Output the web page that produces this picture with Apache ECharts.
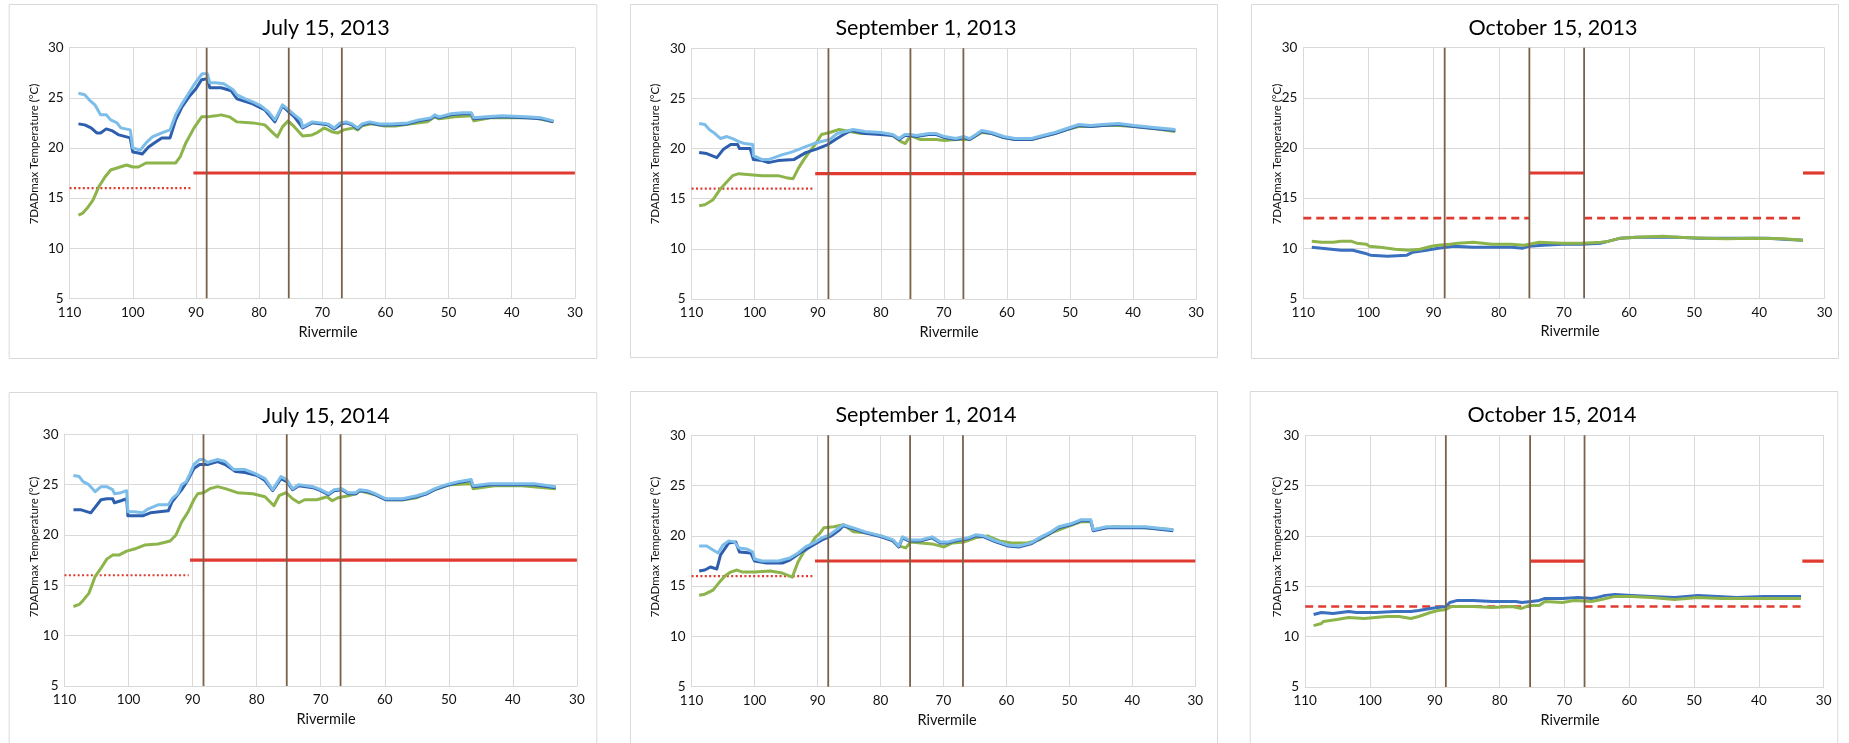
<!DOCTYPE html>
<html>
<head>
<meta charset="utf-8">
<title>7DADmax Temperature by Rivermile</title>
<script src="https://cdn.jsdelivr.net/npm/echarts@6/dist/echarts.min.js"></script>
<style>
  html, body { margin: 0; padding: 0; background: #ffffff; }
  #chart { width: 1849px; height: 743px; }
</style>
</head>
<body>
<div id="chart"></div>
<script>
// ---- Panel titles and axis titles ----
const panelTitles = ['July 15, 2013', 'September 1, 2013', 'October 15, 2013',
                     'July 15, 2014', 'September 1, 2014', 'October 15, 2014'];
const xAxisTitle = 'Rivermile';
const yAxisTitle = '7DADmax Temperature (°C)';

// ---- Axis ranges ----
const xRange = { min: 30, max: 110, interval: 10 };
const yRange = { min: 5, max: 30, interval: 5 };

// ---- Dam locations (rivermile) ----
const damMiles = [88.3, 75.3, 66.9];

// ---- Temperature criteria, [rivermile, °C] ----
const summerSpawning = [[110, 16], [90.6, 16]];
const summerRearing = [[90.4, 17.5], [30, 17.5]];
const fallSpawningUpper = [[110, 13], [75.3, 13]];
const fallRearingMid = [[75.3, 17.5], [66.9, 17.5]];
const fallSpawningLower = [[66.9, 13], [33.3, 13]];
const fallRearingLower = [[33.3, 17.5], [30, 17.5]];

// ---- July 15, 2013 ----
const jul13Light = [[108.6,25.45],[107.6,25.3],[106.9,24.8],[106,24.3],[105.1,23.3],[104.2,23.3],[103.5,22.8],[102.5,22.5],[101.9,22.0],[100.4,21.8],[100,20.0],[98.8,19.8],[97.9,20.5],[96.9,21.1],[95.4,21.5],[94.1,21.8],[93.2,23.3],[92.2,24.4],[91.3,25.3],[90.3,26.3],[89.4,27.1],[89,27.4],[88.2,27.4],[87.8,26.5],[86.9,26.5],[85.6,26.4],[84.1,25.8],[83.5,25.3],[82.2,24.9],[81,24.6],[79.7,24.2],[78.5,23.6],[77.5,22.8],[76.9,23.5],[76.3,24.3],[75.3,23.8],[74.4,23.3],[73.4,22.8],[73.1,22.1],[71.6,22.6],[70.3,22.5],[69.1,22.4],[68.1,22.0],[67.2,22.5],[66.2,22.6],[65.3,22.4],[64.4,22.0],[63.7,22.4],[62.5,22.6],[60.9,22.4],[59,22.4],[56.5,22.5],[54.7,22.8],[52.8,23.0],[52.2,23.3],[51.5,23.1],[49.7,23.4],[47.8,23.5],[46.4,23.5],[46,23.0],[44,23.1],[41.5,23.2],[37.8,23.1],[35.3,23.0],[33.4,22.7]];
const jul13Dark = [[108.6,22.4],[107.6,22.3],[106.6,22.0],[105.7,21.5],[105.1,21.5],[104.2,21.9],[103.2,21.7],[102.2,21.3],[101,21.1],[100.4,21.0],[100,19.6],[99.1,19.5],[98.5,19.4],[97.5,20.1],[96.6,20.5],[95.4,21.0],[94.1,21.0],[93.2,22.8],[92.2,24.1],[91.1,25.1],[90,25.9],[89.1,26.8],[88.2,26.9],[87.8,26.0],[86,26.0],[84.4,25.7],[83.5,24.9],[81,24.4],[79.1,23.8],[77.5,22.6],[76.3,24.2],[75.3,23.6],[74.4,23.1],[73.1,22.0],[71.6,22.5],[69.1,22.3],[68.1,21.9],[66.9,22.4],[66.2,22.5],[65.3,22.3],[64.4,21.9],[63.7,22.3],[62.5,22.5],[60.9,22.3],[59,22.3],[56.5,22.4],[54.7,22.7],[52.8,22.9],[52.2,23.2],[51.5,23.0],[49.7,23.3],[47.8,23.4],[46.4,23.4],[46,22.9],[44,23.0],[41.5,23.1],[37.8,23.0],[35.3,22.9],[33.4,22.6]];
const jul13Green = [[108.6,13.3],[107.9,13.5],[107.2,14.0],[106.3,14.8],[105.4,16.1],[104.4,17.1],[103.5,17.8],[102.5,18.0],[101,18.3],[100,18.1],[99.1,18.1],[97.9,18.5],[95.4,18.5],[93.2,18.5],[92.5,19.1],[91.6,20.5],[90.3,22.0],[89.1,23.1],[88.2,23.1],[86.9,23.2],[86,23.3],[84.7,23.1],[83.5,22.6],[81,22.5],[79.1,22.3],[77.8,21.5],[77.1,21.1],[76.3,22.1],[75.4,22.7],[74.4,22.1],[73.1,21.2],[71.6,21.3],[70.9,21.5],[69.7,22.0],[68.4,21.6],[67.5,21.5],[66.6,21.8],[65,22.0],[64.4,21.8],[63.7,22.2],[62.2,22.4],[60.3,22.2],[58.4,22.2],[55.9,22.4],[53.4,22.6],[52.2,23.1],[51.5,22.9],[49,23.1],[46.4,23.2],[46,22.7],[43.4,23.0],[39.6,23.0],[36.5,23.0],[33.4,22.6]];

// ---- September 1, 2013 ----
const sep13Light = [[108.8,22.5],[107.9,22.4],[107.2,21.9],[106.3,21.5],[105.4,21.0],[104.4,21.2],[103.5,21.0],[102.5,20.7],[101.6,20.5],[100.3,20.4],[100.2,19.3],[98.8,18.9],[97.8,18.9],[96.9,19.1],[95.6,19.4],[94.4,19.6],[93.1,19.9],[91.9,20.2],[90.6,20.5],[89.4,20.7],[88.1,20.9],[86.9,21.5],[85.6,21.7],[84.4,21.9],[82.5,21.7],[80,21.6],[78.1,21.4],[77.1,21.0],[76.2,21.4],[75.3,21.4],[74.3,21.3],[72.4,21.5],[71.2,21.5],[69.9,21.2],[68.1,21.0],[66.8,21.2],[65.9,21.0],[64.9,21.4],[64,21.8],[62.4,21.6],[60.5,21.2],[58.7,21.0],[56.1,21.0],[54.3,21.3],[52.4,21.6],[50.5,22.0],[48.6,22.4],[46.7,22.3],[44.9,22.4],[42.3,22.5],[39.8,22.3],[36.7,22.1],[33.3,21.9]];
const sep13Dark = [[108.8,19.6],[107.6,19.5],[106,19.1],[105,19.9],[103.8,20.4],[102.7,20.4],[102.4,20.0],[100.7,20.0],[100.2,18.9],[98.8,18.8],[97.8,18.6],[96.3,18.8],[93.8,18.9],[91.9,19.6],[90,20.0],[88.4,20.4],[87.2,20.9],[85.9,21.4],[84.7,21.8],[82.5,21.5],[80,21.4],[78.1,21.3],[77.1,20.9],[76.2,21.3],[75.3,21.3],[74.3,21.2],[72.4,21.4],[71.2,21.4],[69.9,21.1],[68.1,20.9],[66.8,21.1],[65.9,20.9],[64.9,21.3],[64,21.7],[62.4,21.5],[60.5,21.1],[58.7,20.9],[56.1,20.9],[54.3,21.2],[52.4,21.5],[50.5,21.9],[48.6,22.3],[46.7,22.2],[44.9,22.3],[42.3,22.4],[39.8,22.2],[36.7,22.0],[33.3,21.8]];
const sep13Green = [[108.8,14.3],[107.9,14.4],[106.6,14.9],[105.4,16.0],[104.4,16.7],[103.5,17.3],[102.5,17.5],[100.7,17.4],[98.8,17.3],[96.3,17.3],[95,17.1],[93.9,17.0],[93.1,18.0],[92.2,18.9],[91.3,19.7],[90.3,20.5],[89.4,21.4],[88.1,21.6],[86.6,21.9],[85,21.7],[83.1,21.5],[80.6,21.6],[78.1,21.3],[76.8,20.7],[76.1,20.5],[75.3,21.3],[73.7,20.9],[71.2,20.9],[69.9,20.8],[68.1,20.9],[65.9,20.9],[64,21.6],[62.4,21.5],[60.5,21.1],[58.7,20.9],[56.1,20.9],[54.3,21.2],[52.4,21.5],[50.5,21.9],[48.6,22.2],[46.7,22.2],[44.9,22.3],[42.3,22.3],[39.8,22.2],[36.7,22.0],[33.3,21.7]];

// ---- October 15, 2013 ----
const oct13Blue = [[108.7,10.1],[107.2,10.0],[104.2,9.8],[102.4,9.8],[100.6,9.5],[99.7,9.3],[97.1,9.2],[94.1,9.3],[93.2,9.6],[91.1,9.8],[89.3,10.0],[86.9,10.2],[83.9,10.1],[81,10.1],[78,10.1],[76.3,10.0],[75.3,10.2],[73.2,10.3],[70.2,10.4],[67.3,10.4],[64.3,10.5],[63.1,10.7],[61.3,11.0],[58.9,11.1],[56,11.1],[52.4,11.1],[49.4,11.0],[45.8,11.0],[42.2,11.0],[38.6,11.0],[36.3,10.9],[33.3,10.8]];
const oct13Green = [[108.7,10.7],[107.2,10.6],[105.4,10.6],[104.2,10.7],[102.7,10.7],[101.8,10.5],[100.3,10.4],[99.9,10.2],[98.2,10.1],[95.9,9.9],[93.8,9.8],[92.1,9.9],[90.3,10.2],[89.3,10.3],[87.5,10.4],[86.3,10.5],[83.9,10.6],[81,10.4],[78,10.4],[76.2,10.3],[75.3,10.4],[73.8,10.6],[70.2,10.5],[67.3,10.5],[64.3,10.6],[63.1,10.7],[61.3,11.0],[58.9,11.1],[54.8,11.2],[52.4,11.1],[48.2,11.0],[45.2,10.95],[41,11.0],[36.3,10.95],[33.3,10.8]];

// ---- July 15, 2014 ----
const jul14Light = [[108.6,25.9],[107.7,25.8],[107.1,25.3],[106.2,25.0],[105.2,24.3],[104.3,24.8],[103.4,24.8],[102.5,24.5],[102.2,24.1],[101.2,24.2],[100.3,24.4],[100.1,22.3],[99.1,22.3],[97.8,22.2],[96.9,22.6],[95.4,23.0],[93.8,23.0],[93.2,23.6],[92.3,24.1],[91.7,25.0],[91,25.3],[90.4,26.1],[89.8,27.0],[88.9,27.5],[88.3,27.5],[87.7,27.2],[86.1,27.5],[84.9,27.3],[83.6,26.5],[81.8,26.5],[80.2,26.1],[78.7,25.6],[77.5,24.5],[76.9,25.1],[76.2,25.8],[75.3,25.5],[74.4,24.6],[73.4,25.0],[71.2,24.8],[70,24.5],[68.8,24.1],[67.9,24.5],[66.7,24.6],[65.7,24.2],[64.5,24.2],[63.9,24.5],[62.7,24.4],[61.5,24.1],[59.9,23.6],[57.2,23.6],[55,23.9],[53.4,24.2],[52.2,24.6],[50.4,25.0],[48.5,25.3],[46.5,25.5],[46.2,24.9],[43.6,25.1],[40.5,25.1],[36.7,25.1],[33.3,24.8]];
const jul14Dark = [[108.6,22.5],[107.4,22.5],[105.9,22.2],[104.3,23.5],[103.4,23.6],[102.5,23.6],[102.2,23.2],[101.2,23.4],[100.3,23.6],[100.1,21.9],[97.8,21.9],[96.6,22.2],[93.8,22.4],[93.2,23.3],[91.7,24.5],[90.7,25.5],[89.8,26.6],[88.9,27.0],[87.7,27.0],[86.1,27.3],[84.9,27.0],[83.3,26.3],[81.8,26.2],[79.9,25.9],[78.7,25.4],[77.5,24.4],[76.2,25.6],[75.3,25.3],[74.4,24.5],[73.4,24.9],[71.2,24.7],[70,24.4],[68.8,24.0],[67.9,24.4],[66.7,24.5],[65.7,24.1],[64.5,24.1],[63.9,24.4],[62.7,24.3],[61.5,24.0],[59.9,23.5],[57.2,23.5],[55,23.8],[53.4,24.1],[52.2,24.5],[50.4,24.9],[48.5,25.2],[46.5,25.4],[46.2,24.8],[43.6,25.0],[40.5,25.0],[36.7,25.0],[33.3,24.7]];
const jul14Green = [[108.6,12.9],[107.7,13.1],[107.1,13.5],[106.2,14.2],[105.2,15.9],[104.3,16.7],[103.4,17.6],[102.5,18.0],[101.5,18.0],[100.3,18.4],[99.1,18.6],[97.5,19.0],[95.4,19.1],[93.5,19.4],[92.6,20.0],[91.7,21.3],[90.7,22.3],[89.8,23.5],[89.2,24.1],[88.3,24.2],[87.3,24.6],[86.1,24.8],[84.9,24.6],[83,24.2],[80.6,24.1],[78.7,23.8],[77.3,22.9],[76.5,23.9],[75.4,24.2],[74.4,23.6],[73.4,23.2],[72.5,23.5],[70.6,23.5],[69,23.8],[68.2,23.4],[67.3,23.7],[65.7,23.9],[64.5,24.1],[63.9,24.4],[61.5,24.0],[59.6,23.5],[57.2,23.5],[55,23.7],[52.2,24.5],[49.8,25.0],[46.5,25.1],[46.2,24.6],[42.9,24.9],[38.6,24.9],[33.3,24.6]];

// ---- September 1, 2014 ----
const sep14Light = [[108.8,19.0],[107.6,19.0],[106.6,18.6],[105.8,18.3],[105,19.1],[104.1,19.5],[103.2,19.4],[102.5,18.8],[101.3,18.7],[100.3,18.4],[100,17.7],[98.8,17.5],[96.2,17.5],[94.4,17.8],[93.1,18.3],[91.9,18.9],[90.6,19.3],[89.3,19.8],[88.1,20.1],[86.8,20.7],[85.9,21.1],[84.3,20.8],[82.4,20.4],[79.9,20.0],[78,19.6],[77.1,19.0],[76.5,19.9],[75.5,19.6],[73.6,19.6],[71.8,19.9],[70.5,19.4],[69.2,19.4],[68,19.6],[66.1,19.8],[64.9,20.1],[63.6,20.0],[61.7,19.5],[59.8,19.1],[57.9,19.0],[56.1,19.3],[54.5,19.9],[52.9,20.4],[51.7,20.9],[49.8,21.2],[48.2,21.6],[46.6,21.6],[46.2,20.6],[44.1,20.9],[41.6,20.9],[37.9,20.9],[33.5,20.6]];
const sep14Dark = [[108.8,16.5],[107.9,16.6],[107,16.9],[106,16.7],[105.4,18.1],[104.1,19.3],[103,19.4],[102.4,18.4],[100.6,18.3],[100,17.5],[98.1,17.3],[95.6,17.3],[94.4,17.6],[92.8,18.3],[91.2,18.9],[89.3,19.6],[87.8,20.0],[86.5,20.6],[85.9,21.0],[84.3,20.7],[82.4,20.3],[79.9,19.9],[78,19.5],[77.1,18.9],[76.5,19.8],[75.5,19.5],[73.6,19.5],[71.8,19.8],[70.5,19.3],[69.2,19.3],[68,19.5],[66.1,19.7],[64.9,20.0],[63.6,19.9],[61.7,19.4],[59.8,19.0],[57.9,18.9],[56.1,19.2],[54.5,19.8],[52.9,20.3],[51.7,20.8],[49.8,21.1],[48.2,21.5],[46.6,21.5],[46.2,20.5],[44.1,20.8],[41.6,20.8],[37.9,20.8],[33.5,20.5]];
const sep14Green = [[108.8,14.1],[107.9,14.2],[106.6,14.6],[105.7,15.3],[104.7,16.0],[103.8,16.4],[102.8,16.6],[101.9,16.4],[100,16.4],[97.5,16.5],[95.6,16.3],[94,15.9],[93.1,17.4],[92.2,18.4],[91.2,19.0],[90.3,19.9],[89.7,20.2],[89,20.8],[87.4,20.9],[85.9,21.1],[84.3,20.4],[82.4,20.3],[79.9,20.0],[78.3,19.6],[77.1,19.0],[76,18.8],[75.2,19.4],[73.6,19.3],[71.8,19.2],[69.9,18.9],[68.6,19.3],[66.7,19.4],[64.9,19.8],[63,20.0],[61.1,19.5],[59.2,19.3],[56.7,19.3],[54.8,19.6],[52.9,20.3],[50.4,20.9],[48.2,21.4],[46.6,21.4],[46.2,20.6],[42.9,20.9],[37.9,20.8],[33.5,20.6]];

// ---- October 15, 2014 ----
const oct14Blue = [[108.7,12.2],[107.5,12.4],[105.7,12.3],[103.3,12.5],[102.1,12.4],[99.1,12.4],[96.1,12.5],[93.7,12.5],[92.5,12.6],[90.7,12.8],[88.3,13.0],[87.7,13.4],[86.5,13.6],[84.1,13.6],[81.1,13.5],[77.5,13.5],[76.6,13.4],[75.1,13.5],[73.9,13.6],[73,13.8],[70.3,13.8],[67.9,13.9],[65.8,13.8],[64.9,13.9],[63.7,14.1],[62.2,14.2],[59.6,14.1],[56.6,14.0],[53,13.9],[49.4,14.1],[46.4,14.0],[43.4,13.9],[39.2,14.0],[33.5,14.0]];
const oct14Green = [[108.7,11.1],[107.5,11.3],[107.2,11.5],[105.1,11.7],[103.3,11.9],[100.9,11.8],[97.4,12.0],[95.5,12.0],[93.7,11.8],[92.5,12.0],[90.7,12.4],[89.5,12.6],[88.3,12.7],[87.4,13.0],[84.1,13.0],[81.1,12.9],[78.1,13.0],[76.6,12.8],[75.4,13.1],[73.9,13.1],[73,13.5],[70.3,13.4],[68.5,13.6],[65.8,13.5],[64.3,13.7],[62.2,14.0],[59.6,14.0],[56.6,13.9],[53,13.7],[49.4,13.9],[45.8,13.8],[41,13.8],[33.5,13.8]];

// ---- Styling ----
const C = {
  light: '#7dbde9',
  dark: '#2e5fae',
  blue: '#3b6fc0',
  green: '#8db44b',
  red: '#e03b30',
  dam: '#7a6149',
  grid: '#d9d9d9',
  frame: '#d9d9d9',
  text: '#111111'
};
const FONT = 'Lato, "Liberation Sans", sans-serif';

// Plot-area rectangles, panel frames and text anchors (pixels)
const layout = [
  { grid: { left: 69.6, top: 47.7, width: 505.3, height: 250.6 }, frame: [8.7, 4, 587.6, 354], title: [326, 28], xName: [328, 332], yName: [34, 154] },
  { grid: { left: 691.6, top: 48.3, width: 504.5, height: 250.7 }, frame: [629.9, 4, 587.1, 353], title: [926, 28], xName: [949, 332], yName: [655, 154] },
  { grid: { left: 1303.3, top: 47.7, width: 521.2, height: 250.6 }, frame: [1250.9, 4, 587.1, 354], title: [1553, 28], xName: [1570, 331], yName: [1277, 154] },
  { grid: { left: 64.5, top: 434.3, width: 512.4, height: 251.7 }, frame: [8.7, 392, 587.6, 400], title: [326, 416], xName: [326, 719], yName: [34, 547] },
  { grid: { left: 691.6, top: 435.3, width: 503.7, height: 251.4 }, frame: [629.9, 391, 587.1, 400], title: [926, 415], xName: [947, 720], yName: [655, 547] },
  { grid: { left: 1305.2, top: 435.3, width: 518.5, height: 251.7 }, frame: [1249.7, 391, 587.6, 400], title: [1552, 415], xName: [1570, 720], yName: [1277, 547] }
];

// Profiles drawn in each panel: [data, color], bottom to top
const panelLines = [
  [[jul13Green, C.green], [jul13Dark, C.dark], [jul13Light, C.light]],
  [[sep13Green, C.green], [sep13Dark, C.dark], [sep13Light, C.light]],
  [[oct13Blue, C.blue], [oct13Green, C.green]],
  [[jul14Green, C.green], [jul14Dark, C.dark], [jul14Light, C.light]],
  [[sep14Green, C.green], [sep14Dark, C.dark], [sep14Light, C.light]],
  [[oct14Blue, C.blue], [oct14Green, C.green]]
];
const summerCriteria = [[summerSpawning, 'dotted'], [summerRearing, 'solid']];
const fallCriteria = [[fallSpawningUpper, 'dashed'], [fallRearingMid, 'solid'], [fallSpawningLower, 'dashed'], [fallRearingLower, 'solid']];
const panelCriteria = [summerCriteria, summerCriteria, fallCriteria, summerCriteria, summerCriteria, fallCriteria];

const grids = [], xAxes = [], yAxes = [], series = [], graphics = [];

layout.forEach((p, i) => {
  grids.push(Object.assign({ containLabel: false }, p.grid));
  xAxes.push({
    type: 'value', gridIndex: i, inverse: true,
    min: xRange.min, max: xRange.max, interval: xRange.interval,
    axisLine: { show: true, lineStyle: { color: C.grid, width: 1 } },
    axisTick: { show: false },
    splitLine: { show: true, lineStyle: { color: C.grid, width: 1 } },
    axisLabel: { color: C.text, fontFamily: FONT, fontSize: 13.5, margin: 7 }
  });
  yAxes.push({
    type: 'value', gridIndex: i,
    min: yRange.min, max: yRange.max, interval: yRange.interval,
    axisLine: { show: true, lineStyle: { color: C.grid, width: 1 } },
    axisTick: { show: false },
    splitLine: { show: true, lineStyle: { color: C.grid, width: 1 } },
    axisLabel: { color: C.text, fontFamily: FONT, fontSize: 13.5, margin: 6 }
  });

  // Criteria lines
  panelCriteria[i].forEach(([data, kind]) => {
    let lineType = 'solid', width = 3.2;
    if (kind === 'dotted') { lineType = [2, 2.4]; width = 2.2; }
    if (kind === 'dashed') { lineType = [8, 5]; width = 2.6; }
    series.push({
      type: 'line', xAxisIndex: i, yAxisIndex: i, data: data,
      showSymbol: false, silent: true, z: 2,
      lineStyle: { color: C.red, width: width, type: lineType }
    });
  });

  // Temperature profiles
  panelLines[i].forEach(([data, color], k) => {
    series.push({
      type: 'line', xAxisIndex: i, yAxisIndex: i, data: data,
      showSymbol: false, silent: true, z: 3 + k,
      lineStyle: { color: color, width: 3, join: 'round' }
    });
  });

  // Dam locations
  damMiles.forEach(m => {
    series.push({
      type: 'line', xAxisIndex: i, yAxisIndex: i,
      data: [[m, yRange.min], [m, yRange.max]],
      showSymbol: false, silent: true, z: 8,
      lineStyle: { color: C.dam, width: 1.8 }
    });
  });

  // Panel frame
  graphics.push({
    type: 'rect', silent: true, z: -1,
    shape: { x: p.frame[0] + 0.5, y: p.frame[1] + 0.5, width: p.frame[2], height: p.frame[3] },
    style: { fill: 'none', stroke: C.frame, lineWidth: 1 }
  });
  // Title
  graphics.push({
    type: 'text', silent: true, x: p.title[0], y: p.title[1],
    style: { text: panelTitles[i], fill: '#000', font: '21.5px ' + FONT, textAlign: 'center', textVerticalAlign: 'middle' }
  });
  // X axis title
  graphics.push({
    type: 'text', silent: true, x: p.xName[0], y: p.xName[1],
    style: { text: xAxisTitle, fill: C.text, font: '14.5px ' + FONT, textAlign: 'center', textVerticalAlign: 'middle' }
  });
  // Y axis title
  graphics.push({
    type: 'text', silent: true, x: p.yName[0], y: p.yName[1], rotation: Math.PI / 2,
    style: { text: yAxisTitle, fill: C.text, font: '11.5px ' + FONT, textAlign: 'center', textVerticalAlign: 'middle' }
  });
});

const chart = echarts.init(document.getElementById('chart'), null, { renderer: 'canvas' });
chart.setOption({
  backgroundColor: '#ffffff',
  animation: false,
  grid: grids,
  xAxis: xAxes,
  yAxis: yAxes,
  series: series,
  graphic: graphics
});
</script>
</body>
</html>
